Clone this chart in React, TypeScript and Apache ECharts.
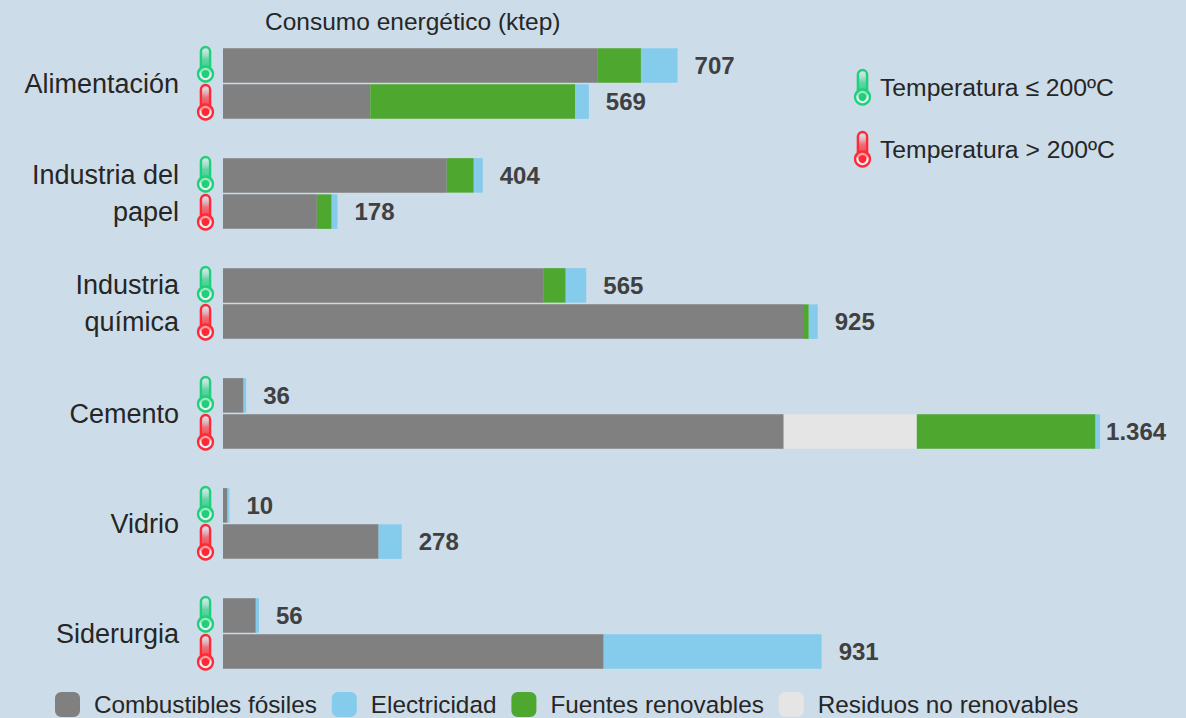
import React, { useEffect, useRef } from "react";
import * as echarts from "echarts";

const categories = ["Alimentación", "Industria del\npapel", "Industria\nquímica", "Cemento", "Vidrio", "Siderurgia"];

// ktep per sector, temperature up to 200 ºC
const fosilesBaja = [583, 348, 499, 32, 7, 51];
const residuosBaja = [0, 0, 0, 0, 0, 0];
const renovablesBaja = [67, 42, 34, 0, 0, 0];
const electricidadBaja = [57, 14, 32, 4, 3, 5];

// ktep per sector, temperature above 200 ºC
const fosilesAlta = [229, 146, 902, 872, 242, 592];
const residuosAlta = [0, 0, 0, 207, 0, 0];
const renovablesAlta = [319, 23, 9, 278, 0, 0];
const electricidadAlta = [21, 9, 14, 7, 36, 339];

const legendOrder = ["Combustibles fósiles", "Electricidad", "Fuentes renovables", "Residuos no renovables"];

const GRAY = "#808080";
const BLUE = "#85CCEC";
const GREEN = "#4EA72E";
const WASTE = "#E5E5E5";
const BG = "#CCDCE8";
const COOL = "#1FD07A";
const HOT = "#FF2A35";
const FONT = "'Liberation Sans', Arial, sans-serif";

const formatTotal = (v: number) => String(v).replace(/\B(?=(\d{3})+$)/g, ".");

// Thermometer icon, origin at the top centre of the tube
function thermometer(x: number, y: number, color: string) {
  const pale = new echarts.graphic.LinearGradient(0, 0, 0, 1, [
    { offset: 0, color: "rgba(255,255,255,0.2)" },
    { offset: 0.45, color: color + "99" },
    { offset: 1, color },
  ]);
  return {
    type: "group",
    x,
    y,
    silent: true,
    children: [
      {
        type: "rect",
        shape: { x: -4.6, y: 1, width: 9.2, height: 27, r: 4.6 },
        style: { fill: pale, stroke: color, lineWidth: 2.4 },
      },
      {
        type: "circle",
        shape: { cx: 0, cy: 28, r: 7.4 },
        style: { fill: "rgba(255,255,255,0.5)", stroke: color, lineWidth: 2.4 },
      },
      { type: "circle", shape: { cx: 0, cy: 28, r: 4 }, style: { fill: color } },
    ],
  };
}

function stackSeries(stack: string, values: number[][], totals: number[]) {
  const [fosiles, residuos, renovables, electricidad] = values;
  const base = { type: "bar", stack, barWidth: 34.5, barGap: "5%" };
  return [
    { ...base, name: "Combustibles fósiles", data: fosiles, itemStyle: { color: GRAY } },
    { ...base, name: "Residuos no renovables", data: residuos, itemStyle: { color: WASTE } },
    { ...base, name: "Fuentes renovables", data: renovables, itemStyle: { color: GREEN } },
    { ...base, name: "Electricidad", data: electricidad, itemStyle: { color: BLUE } },
    {
      ...base,
      name: stack + "-total",
      data: totals.map((total) => ({
        value: 0,
        total,
        label: { distance: total > 1000 ? 6 : 17 },
      })),
      itemStyle: { color: "transparent" },
      label: {
        show: true,
        position: "right",
        fontFamily: FONT,
        fontSize: 24,
        fontWeight: "bold",
        color: "#404040",
        formatter: (p: any) => formatTotal(p.data.total),
      },
    },
  ];
}

const sum = (rows: number[][]) => rows[0].map((_, i) => rows.reduce((acc, r) => acc + r[i], 0));

export default function App() {
  const ref = useRef<HTMLDivElement>(null);

  useEffect(() => {
    const chart = echarts.init(ref.current!, null, { renderer: "svg" });
    const baja = [fosilesBaja, residuosBaja, renovablesBaja, electricidadBaja];
    const alta = [fosilesAlta, residuosAlta, renovablesAlta, electricidadAlta];

    chart.setOption({
      animation: false,
      backgroundColor: BG,
      title: {
        text: "Consumo energético (ktep)",
        left: 260,
        top: 4,
        textStyle: { fontFamily: FONT, fontSize: 24.5, fontWeight: "normal", color: "#262626" },
      },
      legend: {
        data: legendOrder,
        left: 55,
        top: 692,
        padding: 0,
        itemGap: 15,
        itemWidth: 25,
        itemHeight: 25,
        icon: "roundRect",
        selectedMode: false,
        textStyle: { fontFamily: FONT, fontSize: 24.3, color: "#262626", padding: [0, 0, 0, 9] },
      },
      grid: { left: 223, top: 28.5, width: 900.2, height: 660 },
      xAxis: { type: "value", min: 0, max: 1400, show: false },
      yAxis: {
        type: "category",
        inverse: true,
        data: categories,
        axisLine: { show: false },
        axisTick: { show: false },
        axisLabel: {
          margin: 44,
          fontFamily: FONT,
          fontSize: 27,
          lineHeight: 37,
          color: "#262626",
          align: "right",
        },
      },
      series: [
        ...stackSeries("baja", baja, sum(baja)),
        ...stackSeries("alta", alta, sum(alta)),
        {
          type: "custom",
          name: "termómetros",
          coordinateSystem: "cartesian2d",
          clip: false,
          silent: true,
          data: categories.map((_, i) => [0, i]),
          renderItem: (_: any, api: any) => {
            const [x, y] = api.coord([api.value(0), api.value(1)]);
            return {
              type: "group",
              children: [
                thermometer(x - 17.5, y - 37.5, COOL),
                thermometer(x - 17.5, y + 0.5, HOT),
              ],
            };
          },
        },
      ],
      graphic: [
        thermometer(862.5, 69, COOL),
        thermometer(862.5, 131, HOT),
        {
          type: "text",
          x: 880,
          y: 87,
          style: { text: "Temperatura ≤ 200ºC", fontFamily: FONT, fontSize: 24.7, fill: "#262626", verticalAlign: "middle" },
        },
        {
          type: "text",
          x: 880,
          y: 149,
          style: { text: "Temperatura > 200ºC", fontFamily: FONT, fontSize: 24.7, fill: "#262626", verticalAlign: "middle" },
        },
      ],
    });
    return () => chart.dispose();
  }, []);

  return <div ref={ref} style={{ position: "fixed", left: 0, top: 0, width: 1186, height: 718 }} />;
}
